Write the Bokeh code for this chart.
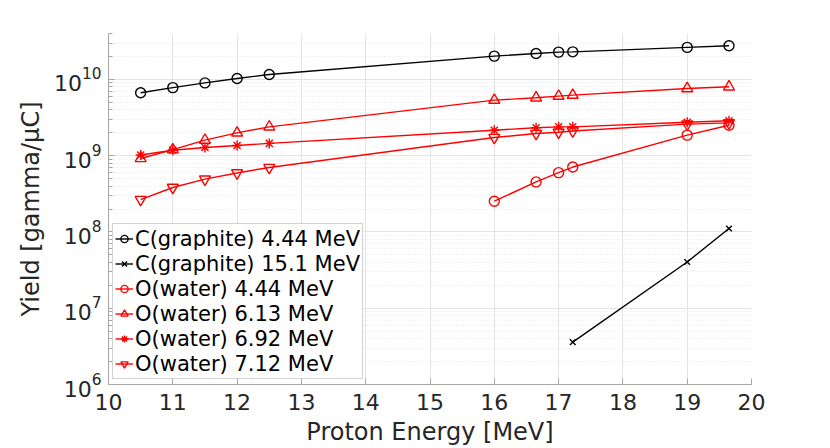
from bokeh.plotting import figure
from bokeh.models import FixedTicker, Legend, LegendItem
from bokeh.embed import file_html
from bokeh.resources import INLINE

# ---- data ----
energy = [10.5, 11, 11.5, 12, 12.5, 16, 16.65, 17, 17.22, 19, 19.65]
c_444 = [6.7e9, 7.8e9, 9.0e9, 1.03e10, 1.16e10, 2.02e10, 2.19e10, 2.28e10, 2.30e10, 2.63e10, 2.76e10]
c_151_energy = [17.22, 19, 19.65]
c_151 = [3.6e6, 4.04e7, 1.11e8]
o_444_energy = [16, 16.65, 17, 17.22, 19, 19.65]
o_444 = [2.53e8, 4.53e8, 6.0e8, 7.1e8, 1.86e9, 2.51e9]
o_613 = [9.2e8, 1.2e9, 1.6e9, 1.99e9, 2.39e9, 5.35e9, 5.74e9, 6.04e9, 6.22e9, 7.6e9, 8.0e9]
o_692 = [1.02e9, 1.18e9, 1.28e9, 1.36e9, 1.45e9, 2.16e9, 2.32e9, 2.39e9, 2.39e9, 2.75e9, 2.87e9]
o_712 = [2.66e8, 3.83e8, 4.92e8, 5.94e8, 7.0e8, 1.73e9, 1.95e9, 2.03e9, 2.11e9, 2.59e9, 2.69e9]

x_ticks = list(range(10, 21))
y_ticks = [1e6, 1e7, 1e8, 1e9, 1e10]
y_minor = [m * 10.0 ** e for e in range(6, 11) for m in range(2, 10) if m * 10.0 ** e <= 4e10]

FONT = "DejaVu Sans"
TXT = "#262626"

p = figure(width=830, height=448, output_backend="svg", toolbar_location=None,
           y_axis_type="log", x_range=(10, 20), y_range=(1e6, 4e10),
           min_border_left=108, min_border_right=79, min_border_top=33, min_border_bottom=64)
p.outline_line_color = None
p.background_fill_color = "white"
p.border_fill_color = "white"

p.xaxis.ticker = FixedTicker(ticks=x_ticks, minor_ticks=[])
p.yaxis.ticker = FixedTicker(ticks=y_ticks, minor_ticks=y_minor)

for ax in (p.xaxis[0], p.yaxis[0]):
    ax.axis_line_color = "#a6a6a6"
    ax.major_tick_line_color = "#a6a6a6"
    ax.minor_tick_line_color = "#a6a6a6"
    ax.major_tick_in = 6
    ax.major_tick_out = 0
    ax.minor_tick_in = 4
    ax.minor_tick_out = 0
    ax.major_label_text_font = FONT
    ax.major_label_text_font_size = "22px"
    ax.major_label_text_color = TXT
    ax.axis_label_text_font = FONT
    ax.axis_label_text_font_size = "24px"
    ax.axis_label_text_font_style = "normal"
    ax.axis_label_text_color = TXT

p.xaxis.axis_label = "Proton Energy [MeV]"
p.yaxis.axis_label = "Yield [gamma/μC]"
p.xaxis.major_label_standoff = 9
p.xaxis.axis_label_standoff = 5
p.yaxis.major_label_standoff = 7
p.yaxis.axis_label_standoff = 6

p.xgrid.grid_line_color = "#e3e3e3"
p.ygrid.grid_line_color = "#e3e3e3"
p.ygrid.minor_grid_line_color = "#e6e6e6"
p.ygrid.minor_grid_line_dash = "1 2"

items = []

def series(xs, ys, color, marker, label, size):
    r1 = p.line(xs, ys, line_color=color, line_width=1.4)
    r2 = p.scatter(xs, ys, marker=marker, size=size, line_color=color,
                   fill_color=None, line_width=1.4)
    items.append(LegendItem(label=label, renderers=[r1, r2]))

series(energy, c_444, "black", "circle", "C(graphite) 4.44 MeV", 10)
series(c_151_energy, c_151, "black", "x", "C(graphite) 15.1 MeV", 8)
series(o_444_energy, o_444, "red", "circle", "O(water) 4.44 MeV", 10)
series(energy, o_613, "red", "triangle", "O(water) 6.13 MeV", 11)
series(energy, o_692, "red", "asterisk", "O(water) 6.92 MeV", 10)
series(energy, o_712, "red", "inverted_triangle", "O(water) 7.12 MeV", 11)

legend = Legend(items=items, location=(4, 5))
legend.label_text_font = FONT
legend.label_text_font_size = "21px"
legend.label_text_color = "black"
legend.glyph_width = 18
legend.glyph_height = 25
legend.label_height = 25
legend.label_standoff = 2
legend.spacing = 0
legend.padding = 2
legend.margin = 0
legend.border_line_color = "#a6a6a6"
legend.background_fill_alpha = 1.0
p.add_layout(legend, "center")

open("out.html", "w").write(file_html(p, INLINE))
